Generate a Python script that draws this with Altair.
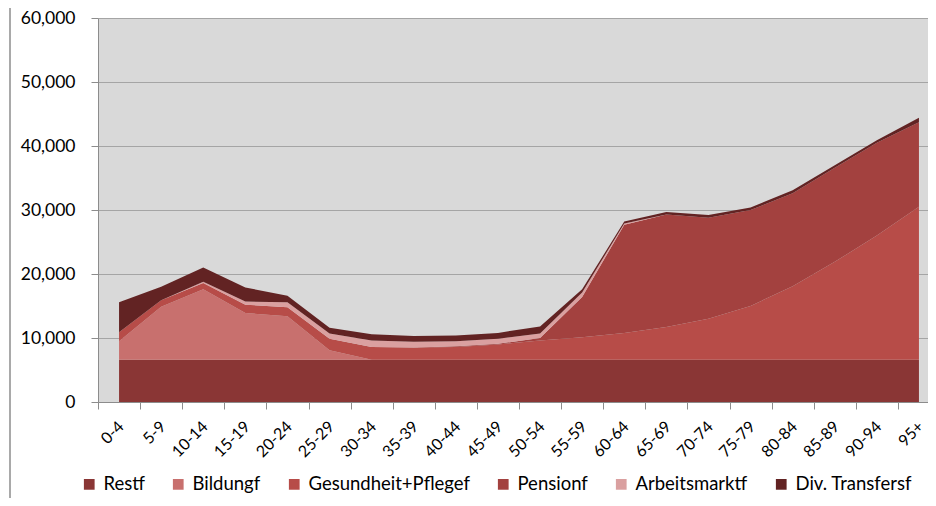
import altair as alt
import pandas as pd

ages = ["0-4", "5-9", "10-14", "15-19", "20-24", "25-29", "30-34", "35-39",
        "40-44", "45-49", "50-54", "55-59", "60-64", "65-69", "70-74", "75-79",
        "80-84", "85-89", "90-94", "95+"]
series = ["Restf", "Bildungf", "Gesundheit+Pflegef", "Pensionf",
          "Arbeitsmarktf", "Div. Transfersf"]
colors = ["#8A3635", "#C8706E", "#B74C48", "#A3413F", "#DAA0A0", "#622323"]

restf = [6600, 6600, 6600, 6600, 6600, 6600, 6600, 6600, 6600, 6600,
         6600, 6600, 6600, 6600, 6600, 6600, 6600, 6600, 6600, 6600]
bildungf = [2900, 8300, 11000, 7300, 6800, 1500, 0, 0, 0, 0,
            0, 0, 0, 0, 0, 0, 0, 0, 0, 0]
gesundheit = [1400, 1000, 1000, 1300, 1400, 1800, 2000, 1900, 2000, 2400,
              3000, 3500, 4200, 5100, 6400, 8400, 11500, 15300, 19400, 23900]
pensionf = [0, 0, 0, 0, 0, 0, 0, 0, 100, 100,
            400, 6300, 16900, 17600, 15800, 15000, 14500, 14700, 14500, 13200]
arbeitsmarktf = [0, 0, 200, 500, 800, 800, 1000, 900, 800, 800,
                 700, 700, 200, 0, 0, 0, 0, 0, 0, 0]
transfersf = [4700, 2100, 2200, 2200, 1000, 900, 1000, 900, 900, 900,
              1100, 500, 300, 400, 400, 400, 500, 400, 400, 700]

y_ticks = [0, 10000, 20000, 30000, 40000, 50000, 60000]

all_vals = [restf, bildungf, gesundheit, pensionf, arbeitsmarktf, transfersf]
rows = []
for si, (name, vals) in enumerate(zip(series, all_vals)):
    for ai, a in enumerate(ages):
        rows.append({"age": a, "series": name, "ord": si, "value": vals[ai]})
df = pd.DataFrame(rows)

FONT = "Lato"
GRAY = "#8C8C8C"

area = alt.Chart(df).mark_area(opacity=1, strokeWidth=0).encode(
    x=alt.X(
        "age:N", sort=ages, bandPosition=0.5,
        scale=alt.Scale(type="band", paddingInner=0, paddingOuter=0, range=[0, 842]),
        axis=alt.Axis(
            title=None, tickBand="extent", labelAngle=-45, labelAlign="right",
            labelBaseline="top", labelPadding=9, labelOffset=-4, tickSize=7,
            tickColor=GRAY, domainColor=GRAY, labelFont=FONT, labelFontSize=16,
            labelColor="#000000", grid=False, labelOverlap=False,
        ),
    ),
    y=alt.Y(
        "value:Q", stack="zero",
        scale=alt.Scale(domain=[0, 60000], nice=False),
        axis=alt.Axis(
            title=None, values=y_ticks, format=",.0f", tickSize=7, tickColor=GRAY,
            domainColor=GRAY, labelPadding=16, labelFont=FONT, labelFontSize=17.5,
            labelColor="#000000", grid=True, gridColor="#A5A5A5", gridWidth=1,
        ),
    ),
    color=alt.Color(
        "series:N", sort=series,
        scale=alt.Scale(domain=series, range=colors),
        legend=alt.Legend(
            title=None, orient="none", legendX=-18, legendY=457,
            direction="horizontal", symbolType="square", symbolSize=115,
            symbolStrokeWidth=0, symbolOpacity=1, labelFont=FONT,
            labelFontSize=18.5, labelColor="#000000", columnPadding=24,
            labelOffset=5, labelLimit=0,
        ),
    ),
    order=alt.Order("ord:Q", sort="ascending"),
)

border = alt.Chart(pd.DataFrame({"k": [0]})).mark_rule(
    color=GRAY, strokeWidth=1.5
).encode(x=alt.value(-88), y=alt.value(-10), y2=alt.value(480))

chart = alt.layer(area, border).properties(
    width=830, height=384,
    padding={"left": 90, "top": 10, "right": 0, "bottom": 96},
    autosize=alt.AutoSizeParams(type="none"),
).configure_view(fill="#D9D9D9", stroke="transparent")

chart.save("out.html", embed_options={"renderer": "svg", "actions": False})
